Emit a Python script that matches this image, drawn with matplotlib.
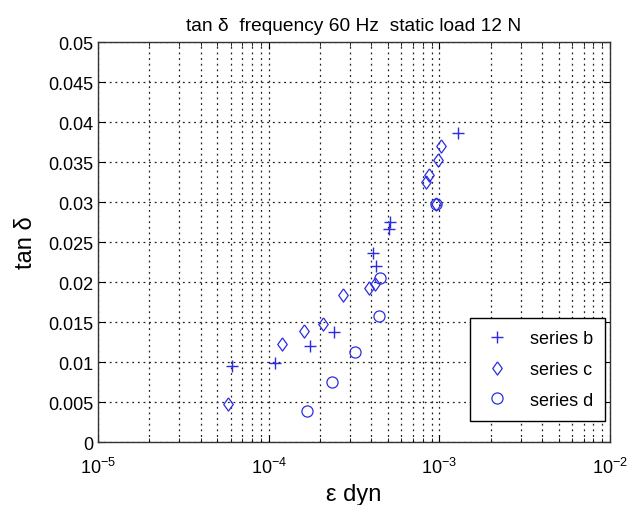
import matplotlib
matplotlib.use('Agg')
import numpy as np
import matplotlib.pyplot as plt
from matplotlib.ticker import LogLocator, MultipleLocator, NullFormatter

plt.rcParams['font.family'] = ['Liberation Sans', 'DejaVu Sans']
plt.rcParams['mathtext.fontset'] = 'custom'
plt.rcParams['mathtext.rm'] = 'Liberation Sans'

# values
b_strain = [6.1e-5, 1.09e-4, 1.75e-4, 2.4e-4, 4.1e-4, 4.25e-4, 5.1e-4, 5.15e-4, 1.29e-3]
b_tan = [0.0095, 0.0099, 0.0120, 0.0137, 0.0236, 0.0220, 0.0266, 0.0275, 0.0386]

c_strain = [5.8e-5, 1.19e-4, 1.6e-4, 2.09e-4, 2.71e-4, 3.86e-4, 4.22e-4,
            8.35e-4, 8.73e-4, 9.87e-4, 1.02e-3, 9.5e-4]
c_tan = [0.00475, 0.0123, 0.0139, 0.0148, 0.0184, 0.0193, 0.0197,
         0.0325, 0.0334, 0.0352, 0.0370, 0.0298]

d_strain = [1.67e-4, 2.36e-4, 3.21e-4, 4.42e-4, 4.49e-4, 9.6e-4]
d_tan = [0.0039, 0.0075, 0.0113, 0.0158, 0.0205, 0.0298]

blue = '#2b2be6'
diamond = [(0, 1), (0.72, 0), (0, -1), (-0.72, 0), (0, 1)]

fig = plt.figure(figsize=(6.27, 5.06), dpi=100)
ax = fig.add_axes([0.1563, 0.1245, 0.8166, 0.7905])

ax.plot(b_strain, b_tan, linestyle='none', marker='+', ms=9, mew=1.0,
        color=blue, label='series b')
ax.plot(c_strain, c_tan, linestyle='none', marker=diamond, ms=9.5, mew=0.9,
        mfc='none', mec=blue, label='series c')
ax.plot(d_strain, d_tan, linestyle='none', marker='o', ms=8, mew=0.9,
        mfc='none', mec=blue, label='series d')

ax.set_xscale('log')
ax.set_xlim(1e-5, 1e-2)
ax.set_ylim(0, 0.05)
ax.yaxis.set_major_locator(MultipleLocator(0.005))
ax.yaxis.set_major_formatter(plt.FuncFormatter(lambda v, p: ('%.3f' % v).rstrip('0').rstrip('.') if v else '0'))
ax.xaxis.set_major_locator(LogLocator(base=10, numticks=10))
ax.xaxis.set_minor_locator(LogLocator(base=10, subs=np.arange(2, 10), numticks=20))
ax.xaxis.set_minor_formatter(NullFormatter())

# matlab style dotted grid
grid_style = dict(color='#222222', linestyle=(0, (1.5, 3)), linewidth=0.9)
ax.grid(True, which='major', axis='both', **grid_style)
ax.grid(True, which='minor', axis='x', **grid_style)

ax.tick_params(which='both', direction='in', top=True, right=True, labelsize=13)
ax.tick_params(which='major', length=5, width=0.8)
ax.tick_params(which='minor', length=3, width=0.6)
ax.tick_params(axis='x', which='major', pad=11)
for s in ax.spines.values():
    s.set_linewidth(1.0)
    s.set_color('#333333')

ax.set_title('tan \u03b4  frequency 60 Hz  static load 12 N', fontsize=13.8, pad=9)
ax.set_xlabel('\u03b5 dyn', fontsize=17, labelpad=4)
ax.set_ylabel('tan \u03b4', fontsize=17, labelpad=8)

leg = ax.legend(loc='lower right', fontsize=13, fancybox=False, framealpha=1,
                edgecolor='black', borderpad=0.7, labelspacing=0.75,
                handletextpad=1.0, handlelength=1.6, borderaxespad=0,
                bbox_to_anchor=(0.991, 0.052))
leg.get_frame().set_linewidth(1.0)

fig.savefig('out.png', dpi=100)
